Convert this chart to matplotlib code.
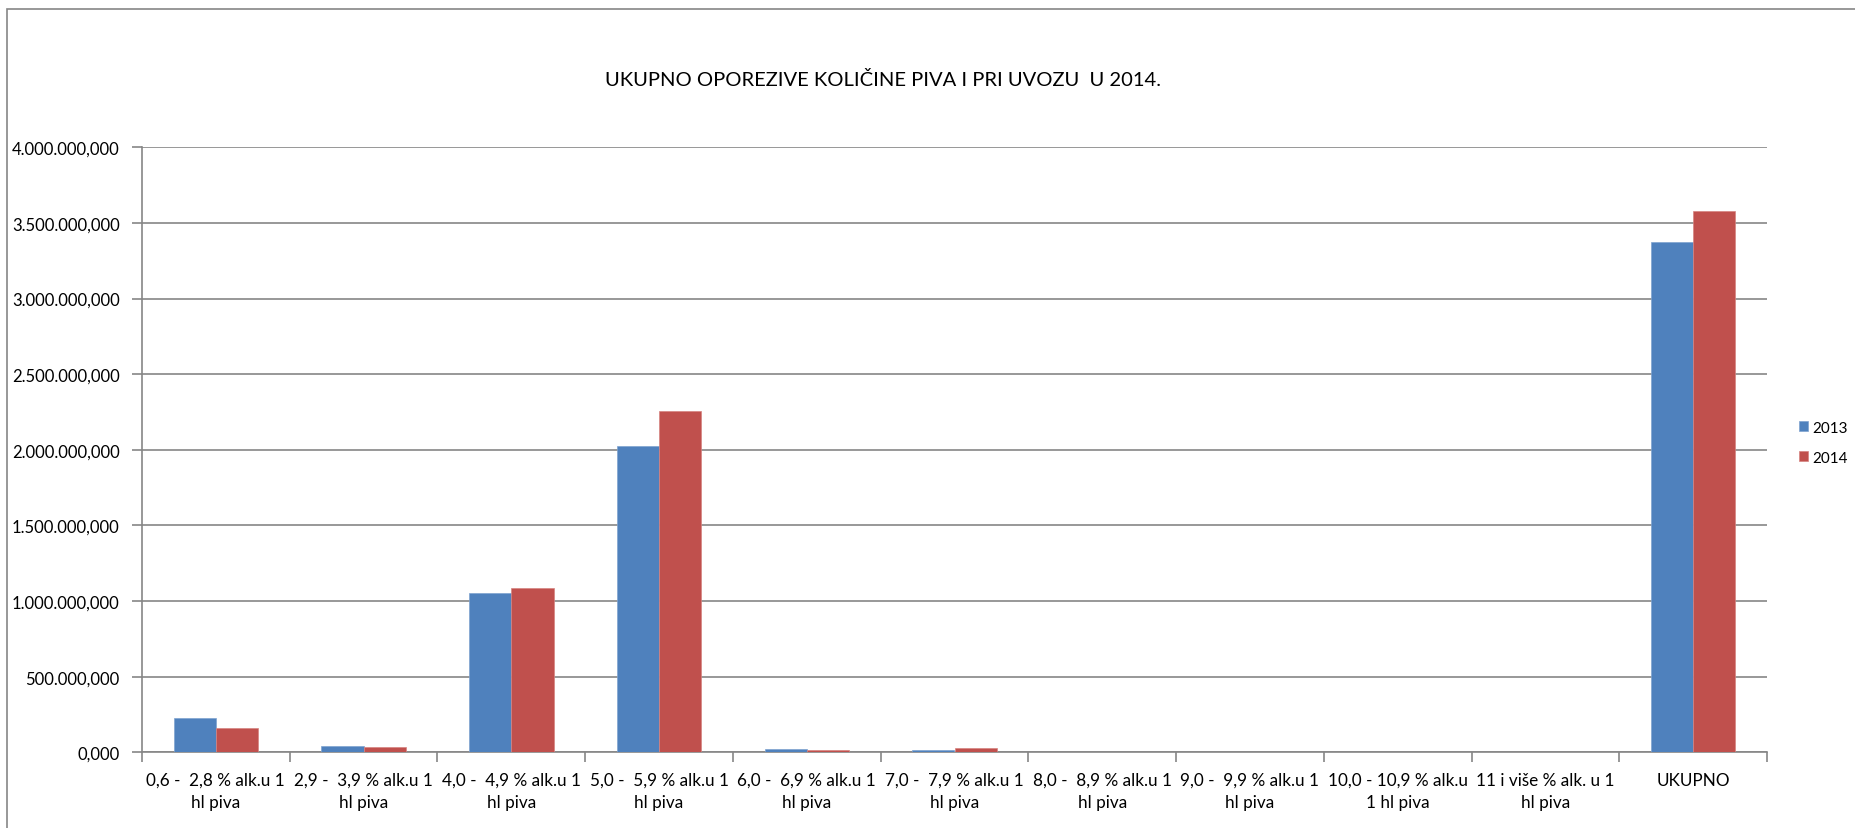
import matplotlib
matplotlib.use("Agg")
import matplotlib.pyplot as plt
from matplotlib.patches import Rectangle
import numpy as np

plt.rcParams['font.family'] = ['Lato', 'DejaVu Sans']

# data
categories = [
    "0,6 -  2,8 % alk.u 1\nhl piva",
    "2,9 -  3,9 % alk.u 1\nhl piva",
    "4,0 -  4,9 % alk.u 1\nhl piva",
    "5,0 -  5,9 % alk.u 1\nhl piva",
    "6,0 -  6,9 % alk.u 1\nhl piva",
    "7,0 -  7,9 % alk.u 1\nhl piva",
    "8,0 -  8,9 % alk.u 1\nhl piva",
    "9,0 -  9,9 % alk.u 1\nhl piva",
    "10,0 - 10,9 % alk.u\n1 hl piva",
    "11 i više % alk. u 1\nhl piva",
    "UKUPNO",
]
values_2013 = [227000, 40000, 1053000, 2023000, 22000, 17000, 1500, 1000, 1000, 1000, 3372000]
values_2014 = [161000, 35000, 1084000, 2259000, 17000, 28000, 1500, 1000, 1000, 1000, 3577000]
series_names = ["2013", "2014"]
colors = ["#4F81BD", "#C0504D"]
title = "UKUPNO OPOREZIVE KOLIČINE PIVA I PRI UVOZU  U 2014."

W, H = 1856, 829
fig = plt.figure(figsize=(W / 100, H / 100), dpi=100)
ax = fig.add_axes([142 / W, 1 - 753.3 / H, (1767 - 142) / W, (753.3 - 148.3) / H])

# outer chart border
fig.patches.append(Rectangle((7 / W, -0.1), 1.2, (H - 10) / H + 0.1, transform=fig.transFigure,
                             fill=False, edgecolor="#868686", linewidth=1.2))

x = np.arange(len(categories))
w = 1 / 3.5
ax.bar(x - w / 2, values_2013, width=w, color=colors[0], edgecolor="#7FA3D0", linewidth=0.5,
       label=series_names[0], zorder=3)
ax.bar(x + w / 2, values_2014, width=w, color=colors[1], edgecolor="#D68481", linewidth=0.5,
       label=series_names[1], zorder=3)

ax.set_xlim(-0.5, len(categories) - 0.5)
ax.set_ylim(0, 4e6)
yt = np.arange(0, 4.0e6 + 1, 0.5e6)
ax.set_yticks(yt)
ax.set_yticklabels([f"{v:,.3f}".replace(",", "X").replace(".", ",").replace("X", ".") for v in yt],
                   fontsize=12)
ax.yaxis.grid(True, color="#868686", linewidth=1.2, zorder=0)
ax.set_axisbelow(True)

ax.set_xticks(x)
ax.set_xticklabels(categories, fontsize=12.3, linespacing=1.45)
ax.tick_params(axis="x", length=0, pad=14)
ax.set_xticks(np.arange(-0.5, len(categories)), minor=True)
ax.tick_params(axis="x", which="minor", length=7, color="#868686", width=1.2)
ax.tick_params(axis="y", length=7, color="#868686", width=1.2, pad=9)

for s in ["top", "right"]:
    ax.spines[s].set_visible(False)
for s in ["left", "bottom"]:
    ax.spines[s].set_color("#868686")
    ax.spines[s].set_linewidth(1.2)

fig.text(883 / W, 1 - 80 / H, title, ha="center", va="center", fontsize=14.5)

leg = ax.legend(loc="center left", bbox_to_anchor=(1.0197, 0.512), frameon=False, fontsize=11,
                handlelength=0.6, handleheight=0.6, handletextpad=0.3, labelspacing=1.05,
                borderpad=0, borderaxespad=0)

fig.savefig("out.png", dpi=100, facecolor="white")
